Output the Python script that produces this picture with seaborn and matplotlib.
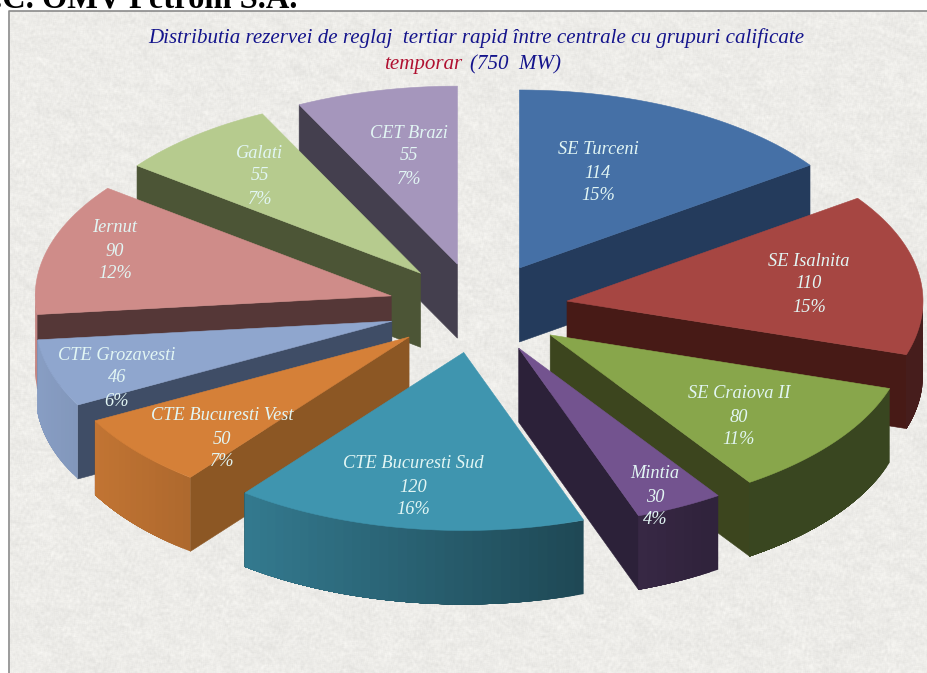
import numpy as np
import matplotlib
matplotlib.use("Agg")
import matplotlib.pyplot as plt
import seaborn as sns

# ---- data ----
names = ["SE Turceni", "SE Isalnita", "SE Craiova II", "Mintia", "CTE Bucuresti Sud",
         "CTE Bucuresti Vest", "CTE Grozavesti", "Iernut", "Galati", "CET Brazi"]
values = [114, 110, 80, 30, 120, 50, 46, 90, 55, 55]
title_line1 = "Distributia rezervei de reglaj  tertiar rapid între centrale cu grupuri calificate"
title_temp = "temporar"
title_mw = "(750  MW)"
header = "S.C. OMV Petrom S.A."

# ---- styles ----
top_colors = ["#4570A6", "#A64642", "#88A64B", "#73538F", "#3F95AF",
              "#D58038", "#8FA6CE", "#CF8C89", "#B6CB8E", "#A596BC"]
radial_colors = ["#243B5C", "#471A16", "#3C451E", "#2C2139", "#1B3F4A",
                 "#8C5724", "#3F4D66", "#553737", "#4C5536", "#443F4E"]
label_x = [598, 809, 739, 655, 413, 222, 117, 115, 260, 409]
label_y = [173, 284, 417, 497, 487, 439, 378, 251, 176, 156]
FIG_W, FIG_H = 927, 673
CX, CY, RX, SQUASH, EXPLODE, DEPTH = 478, 308, 356, 0.5, 0.253, 74

sns.set_theme(style="white")
plt.rcParams["font.family"] = ["Liberation Serif", "DejaVu Serif"]
palette = sns.color_palette(top_colors)
wall_palette = sns.color_palette(radial_colors)

fig = plt.figure(figsize=(FIG_W / 100, FIG_H / 100), dpi=100)
ax = fig.add_axes([0, 0, 1, 1])
ax.set_axis_off()

# ---- paper texture (deterministic hash noise, two scales, padded for blur) ----
PAD = 12
yy, xx = np.mgrid[0:FIG_H + 2 * PAD, 0:FIG_W + 2 * PAD]
def hash_noise(x, y):
    v = np.sin(x * 127.1 + y * 311.7 + 0.37 * x * y % 97) * 43758.5453
    return v - np.floor(v)
def blur(a, k):
    kern = np.ones(k) / k
    a = np.apply_along_axis(lambda r: np.convolve(r, kern, mode="same"), 0, a)
    return np.apply_along_axis(lambda r: np.convolve(r, kern, mode="same"), 1, a)
fine = blur(hash_noise(xx, yy), 3) - 0.5
coarse = blur(hash_noise(xx + 7, yy + 3), 9) - 0.5
tex = (0.925 + 0.11 * fine + 0.14 * coarse)[PAD:-PAD, PAD:-PAD]
rgb = np.clip(np.dstack([tex * 1.004, tex * 1.0, tex * 0.985]), 0, 1)
ax.imshow(rgb[11:, 10:], extent=(10, FIG_W, FIG_H, 11), zorder=0, aspect="auto",
          interpolation="bilinear")
ax.plot([9.5, 9.5, FIG_W], [FIG_H, 10.5, 10.5], color="#8A8A8A", lw=1.2, zorder=1)

ax.set_xlim(0, FIG_W)
ax.set_ylim(FIG_H, 0)

# ---- exploded 3D pie built from the values ----
total = sum(values)
edges = np.concatenate([[0], np.cumsum(values)]) / total * 2 * np.pi
mids = (edges[:-1] + edges[1:]) / 2
RY = RX * SQUASH

def rim(ox, oy, th):
    return ox + RX * np.sin(th), oy - RY * np.cos(th)

def shade(color, f):
    return tuple(min(1, c * f) for c in color)

z = 2
for i in sorted(range(len(values)), key=lambda k: -np.cos(mids[k])):
    a0, a1, m = edges[i], edges[i + 1], mids[i]
    ox = CX + EXPLODE * RX * np.sin(m)
    oy = CY - EXPLODE * RY * np.cos(m)
    # radial walls that face the viewer
    for th, visible in ((a1, np.sin(a1) > 0), (a0, np.sin(a0) < 0)):
        if visible:
            ex, ey = rim(ox, oy, th)
            ax.fill([ox, ex, ex, ox], [oy, ey, ey + DEPTH, oy + DEPTH],
                    color=wall_palette[i], lw=0.4, zorder=z)
    # outer curved wall, front half only; each strip runs on to the end of the
    # visible arc so later strips overpaint it and no anti-aliasing seams appear
    ths = np.linspace(a0, a1, max(3, int(np.degrees(a1 - a0) / 1.5) + 1))
    front = ths[np.cos(ths) <= 0.03]
    for t0 in front[:-1]:
        tm = t0 + (ths[1] - ths[0]) / 2
        f = max(0.42, 0.60 - 0.35 * np.sin(tm))
        ux, uy = rim(ox, oy, front[front >= t0])
        ax.fill(np.r_[ux, ux[::-1]], np.r_[uy, uy[::-1] + DEPTH],
                color=shade(palette[i], f), lw=0, zorder=z)
    # top face
    tx, ty = rim(ox, oy, np.linspace(a0, a1, 120))
    ax.fill(np.r_[ox, tx], np.r_[oy, ty], color=palette[i], lw=0.4, zorder=z + 0.5)
    z += 1

# ---- labels ----
for n, v, lx, ly in zip(names, values, label_x, label_y):
    pct = f"{round(v / total * 100)}%"
    for dy, s in ((-23, n), (0, str(v)), (23, pct)):
        ax.text(lx, ly + dy, s, ha="center", va="center", style="italic",
                fontsize=13.2, color="#E2F6F4", zorder=40)

# ---- titles ----
ax.text(476, 38, title_line1, ha="center", va="center", style="italic",
        fontsize=15.1, color="#14148C", zorder=40)
ax.text(384, 65, title_temp, ha="left", va="center", style="italic",
        fontsize=15.1, color="#B01030", zorder=40)
ax.text(470, 65, title_mw, ha="left", va="center", style="italic",
        fontsize=15.1, color="#14148C", zorder=40)
ax.text(297, 8, header, ha="right", va="baseline", fontweight="bold",
        fontsize=23.5, color="#000000", zorder=40)

fig.savefig("out.png", dpi=100)
